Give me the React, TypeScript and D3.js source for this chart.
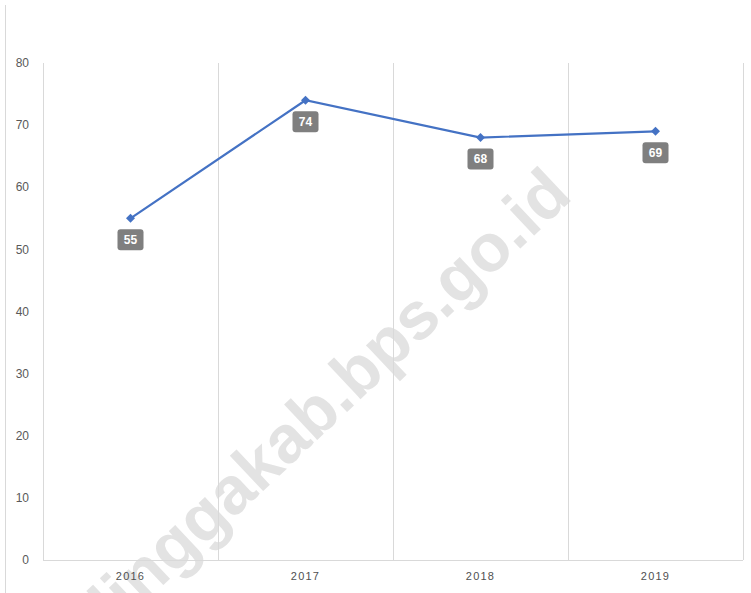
import { useEffect, useRef } from "react";
import * as d3 from "d3";

const years = ["2016", "2017", "2018", "2019"];
const values = [55, 74, 68, 69];
const yTicks = [0, 10, 20, 30, 40, 50, 60, 70, 80];

export default function App() {
  const ref = useRef<SVGSVGElement>(null);

  useEffect(() => {
    const width = 751;
    const height = 593;
    const margin = { left: 43, right: 8, top: 63, bottom: 33 };
    const svg = d3.select(ref.current);
    svg.selectAll("*").remove();

    const x = d3
      .scaleBand()
      .domain(years)
      .range([margin.left, width - margin.right]);
    const y = d3
      .scaleLinear()
      .domain([0, 80])
      .range([height - margin.bottom, margin.top]);

    // watermark sits under the grid
    svg.append("text")
      .attr("transform", "translate(574,198) rotate(-43.3)")
      .attr("text-anchor", "end")
      .attr("font-family", "Liberation Sans, Arial, sans-serif")
      .attr("font-size", 67)
      .attr("font-weight", "bold")
      .attr("fill", "#e3e3e3")
      .text("linggakab.bps.go.id");

    // outer border on the left
    svg.append("line")
      .attr("x1", 5.5).attr("x2", 5.5)
      .attr("y1", 5).attr("y2", height)
      .attr("stroke", "#d9d9d9");

    // vertical gridlines at category edges
    const edges = years.map(d => x(d)!).concat([x(years[years.length - 1])! + x.bandwidth()]);
    svg.append("g")
      .selectAll("line")
      .data(edges)
      .enter()
      .append("line")
      .attr("x1", d => Math.round(d) + 0.5)
      .attr("x2", d => Math.round(d) + 0.5)
      .attr("y1", y(80))
      .attr("y2", y(0))
      .attr("stroke", "#d9d9d9");

    // bottom axis line
    svg.append("line")
      .attr("x1", margin.left).attr("x2", width - margin.right)
      .attr("y1", y(0) + 0.5).attr("y2", y(0) + 0.5)
      .attr("stroke", "#d9d9d9");

    // y labels
    svg.append("g")
      .selectAll("text")
      .data(yTicks)
      .enter()
      .append("text")
      .attr("x", 29)
      .attr("y", d => y(d))
      .attr("dy", "0.35em")
      .attr("text-anchor", "end")
      .attr("font-family", "Liberation Sans, Arial, sans-serif")
      .attr("font-size", 12)
      .attr("fill", "#595959")
      .text(d => d);

    // x labels
    svg.append("g")
      .selectAll("text")
      .data(years)
      .enter()
      .append("text")
      .attr("x", d => x(d)! + x.bandwidth() / 2)
      .attr("y", y(0) + 20)
      .attr("text-anchor", "middle")
      .attr("font-family", "Liberation Sans, Arial, sans-serif")
      .attr("font-size", 11)
      .attr("letter-spacing", 1.2)
      .attr("fill", "#505050")
      .text(d => d);

    const cx = (i: number) => x(years[i])! + x.bandwidth() / 2;

    const line = d3
      .line<number>()
      .x((_, i) => cx(i))
      .y(d => y(d));

    svg.append("path")
      .datum(values)
      .attr("d", line)
      .attr("fill", "none")
      .attr("stroke", "#4472c4")
      .attr("stroke-width", 2.2);

    svg.append("g")
      .selectAll("path")
      .data(values)
      .enter()
      .append("path")
      .attr("d", d3.symbol().type(d3.symbolSquare).size(40)())
      .attr("transform", (d, i) => `translate(${cx(i)},${y(d)}) rotate(45)`)
      .attr("fill", "#4472c4");

    // data labels
    const labels = svg.append("g")
      .selectAll("g")
      .data(values)
      .enter()
      .append("g")
      .attr("transform", (d, i) => `translate(${cx(i)},${y(d) + 21})`);

    labels.append("rect")
      .attr("x", -13)
      .attr("y", -10)
      .attr("width", 26)
      .attr("height", 21)
      .attr("rx", 3)
      .attr("fill", "#7f7f7f");

    labels.append("text")
      .attr("text-anchor", "middle")
      .attr("dy", "0.36em")
      .attr("font-family", "Liberation Sans, Arial, sans-serif")
      .attr("font-size", 12)
      .attr("font-weight", "bold")
      .attr("fill", "#ffffff")
      .text(d => d);
  }, []);

  return (
    <svg
      ref={ref}
      width={751}
      height={593}
      style={{ position: "absolute", left: 0, top: 0, background: "#fff" }}
    />
  );
}
